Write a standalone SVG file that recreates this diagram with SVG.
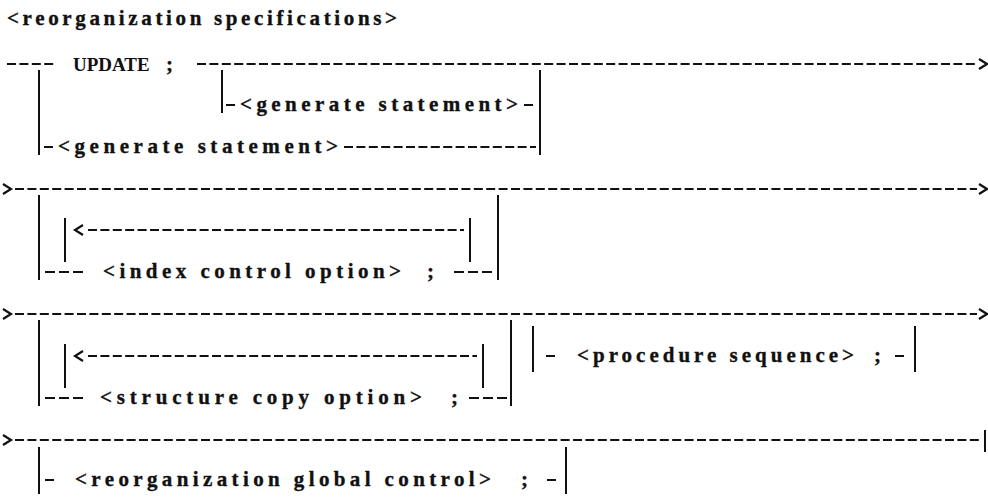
<svg xmlns="http://www.w3.org/2000/svg" width="988" height="498" viewBox="0 0 988 498">
<style>
  .t { font-family: "Liberation Serif", "Times New Roman", serif; font-weight: bold; font-size: 21px; fill: #111; stroke: #111; stroke-width: 0.35; }
  .kw { font-family: "Liberation Serif", "Times New Roman", serif; font-weight: bold; font-size: 19px; fill: #111; }
  .d { stroke: #111; stroke-width: 2; stroke-dasharray: 9 3.4; fill: none; }
  .d3 { stroke: #111; stroke-width: 2; stroke-dasharray: 10 4; fill: none; }
  .v { stroke: #111; stroke-width: 2; fill: none; }
  .ch { stroke: #111; stroke-width: 2.2; fill: none; stroke-linejoin: miter; }
</style>
<defs>
  <path id="chevR" class="ch" d="M-4,-5 L4,0 L-4,5"/>
  <path id="chevL" class="ch" d="M4,-5 L-4,0 L4,5"/>
</defs>
<rect width="988" height="498" fill="#fff"/>

<g id="title">
  <text class="t" x="7" y="25" textLength="390" lengthAdjust="spacing">&lt;reorganization specifications&gt;</text>
</g>

<g id="connectors">
  <!-- row 1 -->
  <line class="d" x1="7" y1="64" x2="56" y2="64"/>
  <line class="d" x1="197" y1="64" x2="977" y2="64"/>
  <use href="#chevR" x="983" y="64"/>
  <line class="v" x1="39" y1="70" x2="39" y2="155"/>
  <line class="v" x1="222" y1="70" x2="222" y2="113"/>
  <line class="v" x1="540" y1="70" x2="540" y2="155"/>
  <!-- row 2 -->
  <line class="d" x1="226" y1="105" x2="236" y2="105"/>
  <line class="d" x1="524" y1="105" x2="534" y2="105"/>
  <!-- row 3 -->
  <line class="d" x1="44" y1="147" x2="54" y2="147"/>
  <line class="d" x1="344" y1="147" x2="536" y2="147"/>
  <!-- row 4 -->
  <use href="#chevR" x="7" y="189"/>
  <line class="d" x1="15" y1="189" x2="977" y2="189"/>
  <use href="#chevR" x="983" y="189"/>
  <line class="v" x1="39" y1="195" x2="39" y2="280"/>
  <line class="v" x1="498" y1="195" x2="498" y2="280"/>
  <!-- row 5 loop -->
  <line class="v" x1="65" y1="218" x2="65" y2="262"/>
  <use href="#chevL" x="79" y="230"/>
  <line class="d" x1="88" y1="230" x2="464" y2="230"/>
  <line class="v" x1="470" y1="218" x2="470" y2="262"/>
  <!-- row 6 -->
  <line class="d3" x1="45" y1="272" x2="83" y2="272"/>
  <line class="d3" x1="454" y1="272" x2="492" y2="272"/>
  <!-- row 7 -->
  <use href="#chevR" x="7" y="314"/>
  <line class="d" x1="15" y1="314" x2="977" y2="314"/>
  <use href="#chevR" x="983" y="314"/>
  <line class="v" x1="39" y1="320" x2="39" y2="406"/>
  <line class="v" x1="511" y1="320" x2="511" y2="406"/>
  <line class="v" x1="533" y1="326" x2="533" y2="372"/>
  <line class="v" x1="915" y1="326" x2="915" y2="372"/>
  <!-- row 8 -->
  <line class="v" x1="65" y1="344" x2="65" y2="388"/>
  <use href="#chevL" x="79" y="356"/>
  <line class="d" x1="88" y1="356" x2="477" y2="356"/>
  <line class="v" x1="483" y1="344" x2="483" y2="388"/>
  <line class="d" x1="546" y1="356" x2="556" y2="356"/>
  <line class="d" x1="895" y1="356" x2="907" y2="356"/>
  <!-- row 9 -->
  <line class="d3" x1="45" y1="398" x2="83" y2="398"/>
  <line class="d3" x1="469" y1="398" x2="507" y2="398"/>
  <!-- row 10 -->
  <use href="#chevR" x="7" y="440"/>
  <line class="d" x1="15" y1="440" x2="980" y2="440"/>
  <line class="v" x1="985" y1="430" x2="985" y2="452"/>
  <line class="v" x1="39" y1="447" x2="39" y2="494"/>
  <line class="v" x1="566" y1="447" x2="566" y2="494"/>
  <!-- row 11 -->
  <line class="d" x1="45" y1="480" x2="56" y2="480"/>
  <line class="d" x1="547" y1="480" x2="558" y2="480"/>
</g>

<g id="update">
  <text class="kw" x="73" y="71">UPDATE</text>
  <text class="t" x="166" y="71">;</text>
</g>

<g id="generate-inner">
  <text class="t" x="240" y="111" textLength="278" lengthAdjust="spacing">&lt;generate statement&gt;</text>
</g>

<g id="generate-outer">
  <text class="t" x="58" y="153" textLength="280" lengthAdjust="spacing">&lt;generate statement&gt;</text>
</g>

<g id="index-control">
  <text class="t" x="103" y="278" textLength="298" lengthAdjust="spacing">&lt;index control option&gt;</text>
  <text class="t" x="427" y="278">;</text>
</g>

<g id="procedure-sequence">
  <text class="t" x="577" y="362" textLength="277" lengthAdjust="spacing">&lt;procedure sequence&gt;</text>
  <text class="t" x="874" y="362">;</text>
</g>

<g id="structure-copy">
  <text class="t" x="100" y="404" textLength="322" lengthAdjust="spacing">&lt;structure copy option&gt;</text>
  <text class="t" x="451" y="404">;</text>
</g>

<g id="global-control">
  <text class="t" x="75" y="486" textLength="416" lengthAdjust="spacing">&lt;reorganization global control&gt;</text>
  <text class="t" x="521" y="486">;</text>
</g>
</svg>
